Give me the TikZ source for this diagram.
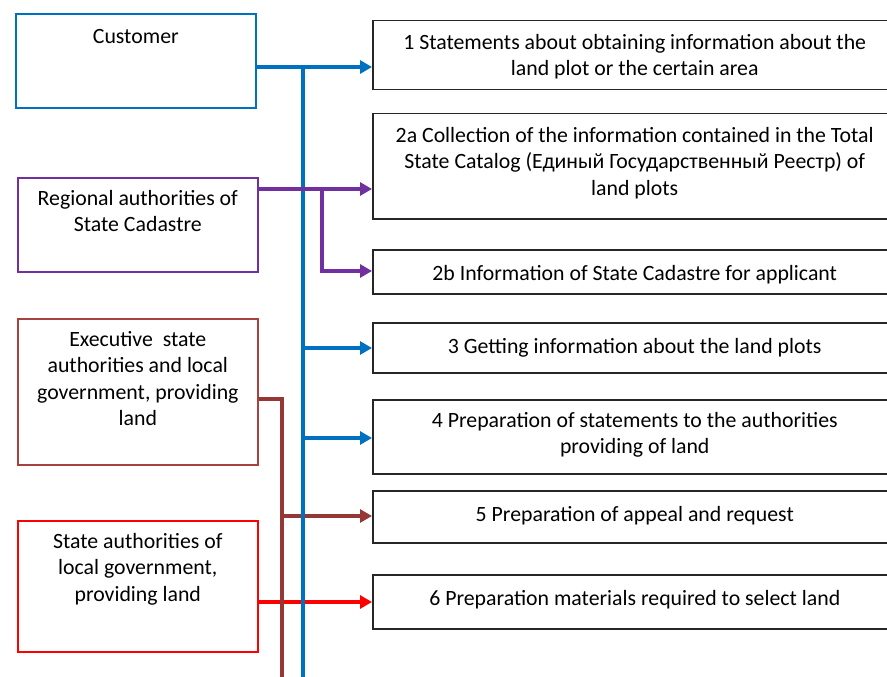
\documentclass[tikz,border=0pt]{standalone}
\usepackage{fontspec}
\setmainfont{Carlito}
\usetikzlibrary{arrows.meta}

\definecolor{cblue}{RGB}{0,112,192}
\definecolor{cpurple}{RGB}{112,48,160}
\definecolor{cbrown}{RGB}{149,55,53}
\definecolor{cbrownedge}{RGB}{168,65,62}
\definecolor{cred}{RGB}{255,0,0}

\tikzset{
  srcbox/.style={draw=#1, line width=1.6pt, inner sep=0pt, anchor=north west, minimum width=240pt},
  stepbox/.style={draw=black!85, line width=1.5pt, inner sep=0pt, anchor=north west, minimum width=530pt},
  boxtext/.style={anchor=north, inner sep=0pt, align=center,
    font=\fontsize{21.8pt}{26.5pt}\selectfont,
    execute at begin node={\rule{0pt}{18pt}}},
  conn/.style={line width=4pt},
  tip/.style={conn, -{Triangle[length=12pt, width=13pt]}},
}

\begin{document}
\begin{tikzpicture}[x=1pt, y=-1pt]
  \useasboundingbox (0,0) rectangle (887,677);
  \clip (0,0) rectangle (887,677);

  % sources on the left
  \node[srcbox=cblue, minimum height=94pt] (cust) at (15,13) {};
  \node[srcbox=cpurple, minimum height=94pt] (reg) at (17,177) {};
  \node[srcbox=cbrownedge, minimum height=146pt] (exec) at (17,318) {};
  \node[srcbox=cred, minimum height=131pt] (st) at (17,520) {};

  \node[boxtext] (custt) at ([yshift=-12pt]cust.north) {Customer};
  \node[boxtext] (regt) at ([yshift=-13pt]reg.north) {Regional authorities of\\State Cadastre};
  \node[boxtext] (exect) at ([yshift=-13pt]exec.north) {Executive\ \ state\\authorities and local\\government, providing\\land};
  \node[boxtext] (stt) at ([yshift=-13pt]st.north) {State authorities of\\local government,\\providing land};

  % steps on the right
  \node[stepbox, minimum height=69pt] (b1) at (372,20) {};
  \node[stepbox, minimum height=105pt] (b2a) at (372,113) {};
  \node[stepbox, minimum height=44pt] (b2b) at (372,249) {};
  \node[stepbox, minimum height=50pt] (b3) at (372,322) {};
  \node[stepbox, minimum height=74pt] (b4) at (372,399) {};
  \node[stepbox, minimum height=52pt] (b5) at (372,490) {};
  \node[stepbox, minimum height=54pt] (b6) at (372,574) {};

  \node[boxtext] (b1t) at ([xshift=-3pt, yshift=-14pt]b1.north) {1 Statements about obtaining information about the\\land plot or the certain area};
  \node[boxtext] (b2at) at ([xshift=-3pt, yshift=-14pt]b2a.north) {2a Collection of the information contained in the Total\\State Catalog (Единый Государственный Реестр) of\\land plots};
  \node[boxtext] (b2bt) at ([xshift=-3pt, yshift=-13pt]b2b.north) {2b Information of State Cadastre for applicant};
  \node[boxtext] (b3t) at ([xshift=-3pt, yshift=-13pt]b3.north) {3 Getting information about the land plots};
  \node[boxtext] (b4t) at ([xshift=-3pt, yshift=-13pt]b4.north) {4 Preparation of statements to the authorities\\providing of land};
  \node[boxtext] (b5t) at ([xshift=-3pt, yshift=-13pt]b5.north) {5 Preparation of appeal and request};
  \node[boxtext] (b6t) at ([xshift=-3pt, yshift=-13pt]b6.north) {6 Preparation materials required to select land};

  % junction points of the buses
  \coordinate (jb) at (303,67);
  \coordinate (jbend) at (303,677);
  \coordinate (jb3) at (303,348);
  \coordinate (jb4) at (303,438);
  \coordinate (jp) at (322,189);
  \coordinate (jp2) at (322,271);
  \coordinate (jr) at (280,399);
  \coordinate (jrend) at (280,677);
  \coordinate (jr5) at (280,516);
  \coordinate (jd) at (0,602);

  % red line
  \draw[tip, cred] (st.east |- jd) -- (b6.west |- jd);

  % brown bus
  \draw[conn, cbrown] (exec.east |- jr) -- ([xshift=2pt]jr) -- ([xshift=2pt]jrend);
  \draw[tip, cbrown] (jr5) -- (b5.west |- jr5);

  % blue bus
  \draw[tip, cblue] (cust.east |- jb) -- (b1.west |- jb);
  \draw[conn, cblue] ([yshift=-2pt]jb) -- (jbend);
  \draw[tip, cblue] (jb3) -- (b3.west |- jb3);
  \draw[tip, cblue] (jb4) -- (b4.west |- jb4);

  % purple bus
  \draw[tip, cpurple] (reg.east |- jp) -- (b2a.west |- jp);
  \draw[tip, cpurple] ([yshift=-2pt]jp) -- (jp2) -- (b2b.west |- jp2);
\end{tikzpicture}
\end{document}
